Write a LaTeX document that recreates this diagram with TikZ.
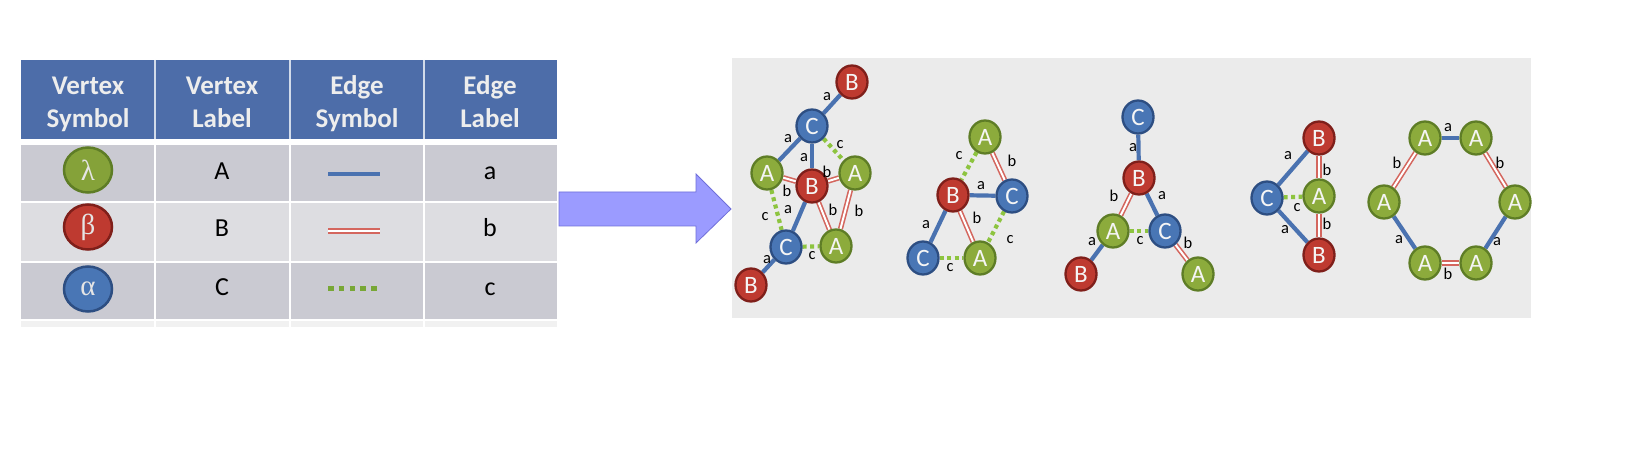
\documentclass[tikz,border=0pt]{standalone}
\usepackage{fontspec}
\setmainfont{Carlito}
\newfontfamily\grk{Liberation Serif}
\usetikzlibrary{shapes.geometric}
\definecolor{hdr}{HTML}{4D6DA9}
\definecolor{rowdark}{HTML}{CACAD2}
\definecolor{rowlight}{HTML}{DDDDE1}
\definecolor{panel}{HTML}{EBEBEB}
\definecolor{arrfill}{HTML}{9B9BFF}
\definecolor{arrdraw}{HTML}{6F6FD9}
\definecolor{gA}{HTML}{8CAB3C}
\definecolor{gAd}{HTML}{5E7D26}
\definecolor{rB}{HTML}{BE3A30}
\definecolor{rBd}{HTML}{7F1F1A}
\definecolor{bC}{HTML}{4976B5}
\definecolor{bCd}{HTML}{2D4E82}
\definecolor{eblue}{HTML}{4A72B0}
\definecolor{ered}{HTML}{D4665E}
\definecolor{egreen}{HTML}{8DC43F}
\pgfdeclarelayer{back}
\pgfdeclarelayer{edges}
\pgfsetlayers{back,edges,main}
\begin{document}
\begin{tikzpicture}[x=1pt,y=-1pt,
  hd/.style={anchor=base,inner sep=0,text=white!93!black,font=\fontsize{27}{33}\selectfont\bfseries},
  cell/.style={anchor=base,inner sep=0,text=black,font=\fontsize{26}{30}\selectfont},
  vsym/.style={ellipse,line width=2.5pt,minimum width=48pt,minimum height=45pt,inner sep=0,text=white!90!black,font=\fontsize{29}{29}\grk},
  vtx/.style={ellipse,line width=2.3pt,minimum width=31pt,minimum height=33pt,inner sep=0,text=white!96!black,font=\fontsize{25}{25}\selectfont},
  vA/.style={vtx,fill=gA,draw=gAd},
  vB/.style={vtx,fill=rB,draw=rBd},
  vC/.style={vtx,fill=bC,draw=bCd},
  ea/.style={draw=eblue,line width=4.2pt},
  eb/.style={draw=ered,line width=1.6pt,double=white,double distance=2pt},
  ec/.style={draw=egreen,line width=4.2pt,dash pattern=on 4pt off 3.5pt},
  lbl/.style={inner sep=0,text=black,font=\fontsize{16.5}{16.5}\selectfont}
]
\useasboundingbox (0,0) rectangle (1626,473);
\begin{pgfonlayer}{back}
\fill[white] (0,0) rectangle (1626,473);
% table
\fill[hdr] (21,60) rectangle (557,139);
\fill[rowdark] (21,145) rectangle (557,201);
\fill[rowlight] (21,203) rectangle (557,261);
\fill[rowdark] (21,263) rectangle (557,319);
\fill[panel!70!white] (21,321) rectangle (557,327);
\foreach \x in {155,290,424}{
  \draw[white!75!hdr,line width=1.5pt] (\x,60) -- (\x,139);
  \draw[white,line width=2pt] (\x,145) -- (\x,327);
}
% panel
\fill[panel] (732,58) rectangle (1531,318);
% arrow
\filldraw[fill=arrfill,draw=arrdraw,line width=0.8pt] (559,192) -- (696,192) -- (696,174) -- (731,209) -- (696,243) -- (696,226) -- (559,226) -- cycle;
\end{pgfonlayer}

% header text
\node[hd] (h1a) at (88,94.3) {Vertex};
\node[hd] (h1b) at (88,127.3) {Symbol};
\node[hd] (h2a) at (222,94.3) {Vertex};
\node[hd] (h2b) at (222,127.3) {Label};
\node[hd] (h3a) at (357,94.3) {Edge};
\node[hd] (h3b) at (357,127.3) {Symbol};
\node[hd] (h4a) at (490,94.3) {Edge};
\node[hd] (h4b) at (490,127.3) {Label};
% vertex symbols
\node[vsym,fill=gA!95!black,draw=gAd] (s1) at (88,170) {λ};
\node[vsym,fill=rB,draw=rBd] (s2) at (88,227) {β};
\node[vsym,fill=bC,draw=bCd] (s3) at (88,289) {α};
% vertex labels
\node[cell] (l1) at (222,180) {A};
\node[cell] (l2) at (222,236.7) {B};
\node[cell] (l3) at (222,296) {C};
% edge symbols
\coordinate (e1s) at (328,174); \coordinate (e1e) at (380,174);
\coordinate (e2s) at (328,231); \coordinate (e2e) at (380,231);
\coordinate (e3s) at (328,289); \coordinate (e3e) at (378,289);
\draw[ea] (e1s) -- (e1e);
\draw[eb] (e2s) -- (e2e);
\draw[draw=egreen!85!black,line width=5pt,dash pattern=on 5.5pt off 5.3pt] (e3s) -- (e3e);
% edge labels
\node[cell] (m1) at (490,180) {a};
\node[cell] (m2) at (490,236.7) {b};
\node[cell] (m3) at (490,296) {c};

% ---------- graph 1
\node[vB] (g1bt) at (852,82) {B};
\node[vC] (g1ct) at (812,126) {C};
\node[vA] (g1al) at (767,173) {A};
\node[vB] (g1bc) at (812,186) {B};
\node[vA] (g1ar) at (855,173) {A};
\node[vC] (g1cb) at (786,247) {C};
\node[vA] (g1ab) at (836,246) {A};
\node[vB] (g1bb) at (751,285) {B};
\begin{pgfonlayer}{edges}
\draw[ea] (g1ct) -- (g1bt);
\draw[ea] (g1ct) -- (g1al);
\draw[ea] (g1ct) -- (g1bc);
\draw[ec] (g1ct) -- (g1ar);
\draw[eb] (g1al) -- (g1bc);
\draw[eb] (g1bc) -- (g1ar);
\draw[ec] (g1al) -- (g1cb);
\draw[ea] (g1bc) -- (g1cb);
\draw[eb] (g1bc) -- (g1ab);
\draw[eb] (g1ar) -- (g1ab);
\draw[ec] (g1cb) -- (g1ab);
\draw[ea] (g1cb) -- (g1bb);
\end{pgfonlayer}
\node[lbl] (t101) at (827,97) {a};
\node[lbl] (t102) at (788,139) {a};
\node[lbl] (t103) at (804,158) {a};
\node[lbl] (t104) at (840,145) {c};
\node[lbl] (t105) at (787,191) {b};
\node[lbl] (t106) at (827,172) {b};
\node[lbl] (t107) at (765,217) {c};
\node[lbl] (t108) at (788,210) {a};
\node[lbl] (t109) at (833,210) {b};
\node[lbl] (t110) at (859,211) {b};
\node[lbl] (t111) at (812,256) {c};
\node[lbl] (t112) at (767,260) {a};

% ---------- graph 2
\node[vA] (g2at) at (985,137) {A};
\node[vB] (g2b) at (953,195) {B};
\node[vC] (g2cr) at (1012,196) {C};
\node[vC] (g2cl) at (923,258) {C};
\node[vA] (g2ab) at (980,258) {A};
\begin{pgfonlayer}{edges}
\draw[ec] (g2at) -- (g2b);
\draw[eb] (g2at) -- (g2cr);
\draw[ea] (g2b) -- (g2cr);
\draw[ea] (g2b) -- (g2cl);
\draw[eb] (g2b) -- (g2ab);
\draw[ec] (g2cr) -- (g2ab);
\draw[ec] (g2cl) -- (g2ab);
\end{pgfonlayer}
\node[lbl] (t201) at (959,156) {c};
\node[lbl] (t202) at (1012,161) {b};
\node[lbl] (t203) at (981,186) {a};
\node[lbl] (t204) at (926,225) {a};
\node[lbl] (t205) at (977,218) {b};
\node[lbl] (t206) at (1010,240) {c};
\node[lbl] (t207) at (950,268) {c};

% ---------- graph 3
\node[vC] (g3ct) at (1138,117) {C};
\node[vB] (g3b) at (1139,178) {B};
\node[vA] (g3a) at (1113,231) {A};
\node[vC] (g3c) at (1165,231) {C};
\node[vB] (g3bb) at (1081,274) {B};
\node[vA] (g3ab) at (1198,274) {A};
\begin{pgfonlayer}{edges}
\draw[ea] (g3ct) -- (g3b);
\draw[eb] (g3b) -- (g3a);
\draw[ea] (g3b) -- (g3c);
\draw[ec] (g3a) -- (g3c);
\draw[ea] (g3a) -- (g3bb);
\draw[eb] (g3c) -- (g3ab);
\end{pgfonlayer}
\node[lbl] (t301) at (1133,148) {a};
\node[lbl] (t302) at (1114,196) {b};
\node[lbl] (t303) at (1162,196) {a};
\node[lbl] (t304) at (1140,241) {c};
\node[lbl] (t305) at (1092,242) {a};
\node[lbl] (t306) at (1188,243) {b};

% ---------- graph 4
\node[vB] (g4bt) at (1319,138) {B};
\node[vC] (g4c) at (1267,198) {C};
\node[vA] (g4a) at (1319,196) {A};
\node[vB] (g4bb) at (1319,255) {B};
\begin{pgfonlayer}{edges}
\draw[ea] (g4c) -- (g4bt);
\draw[ec] (g4c) -- (g4a);
\draw[ea] (g4c) -- (g4bb);
\draw[eb] (g4bt) -- (g4a);
\draw[eb] (g4a) -- (g4bb);
\end{pgfonlayer}
\node[lbl] (t401) at (1288,156) {a};
\node[lbl] (t402) at (1297,208) {c};
\node[lbl] (t403) at (1285,230) {a};
\node[lbl] (t404) at (1327,170) {b};
\node[lbl] (t405) at (1327,224) {b};

% ---------- graph 5 (hexagon)
\node[vA] (g5a1) at (1425,138) {A};
\node[vA] (g5a2) at (1476,138) {A};
\node[vA] (g5a3) at (1515,202) {A};
\node[vA] (g5a4) at (1476,263) {A};
\node[vA] (g5a5) at (1425,263) {A};
\node[vA] (g5a6) at (1384,202) {A};
\begin{pgfonlayer}{edges}
\draw[ea] (g5a1) -- (g5a2);
\draw[eb] (g5a2) -- (g5a3);
\draw[ea] (g5a3) -- (g5a4);
\draw[eb] (g5a4) -- (g5a5);
\draw[ea] (g5a5) -- (g5a6);
\draw[eb] (g5a6) -- (g5a1);
\end{pgfonlayer}
\node[lbl] (t501) at (1448,128) {a};
\node[lbl] (t502) at (1500,163) {b};
\node[lbl] (t503) at (1497,242) {a};
\node[lbl] (t504) at (1448,274) {b};
\node[lbl] (t505) at (1399,240) {a};
\node[lbl] (t506) at (1397,163) {b};
\end{tikzpicture}
\end{document}
